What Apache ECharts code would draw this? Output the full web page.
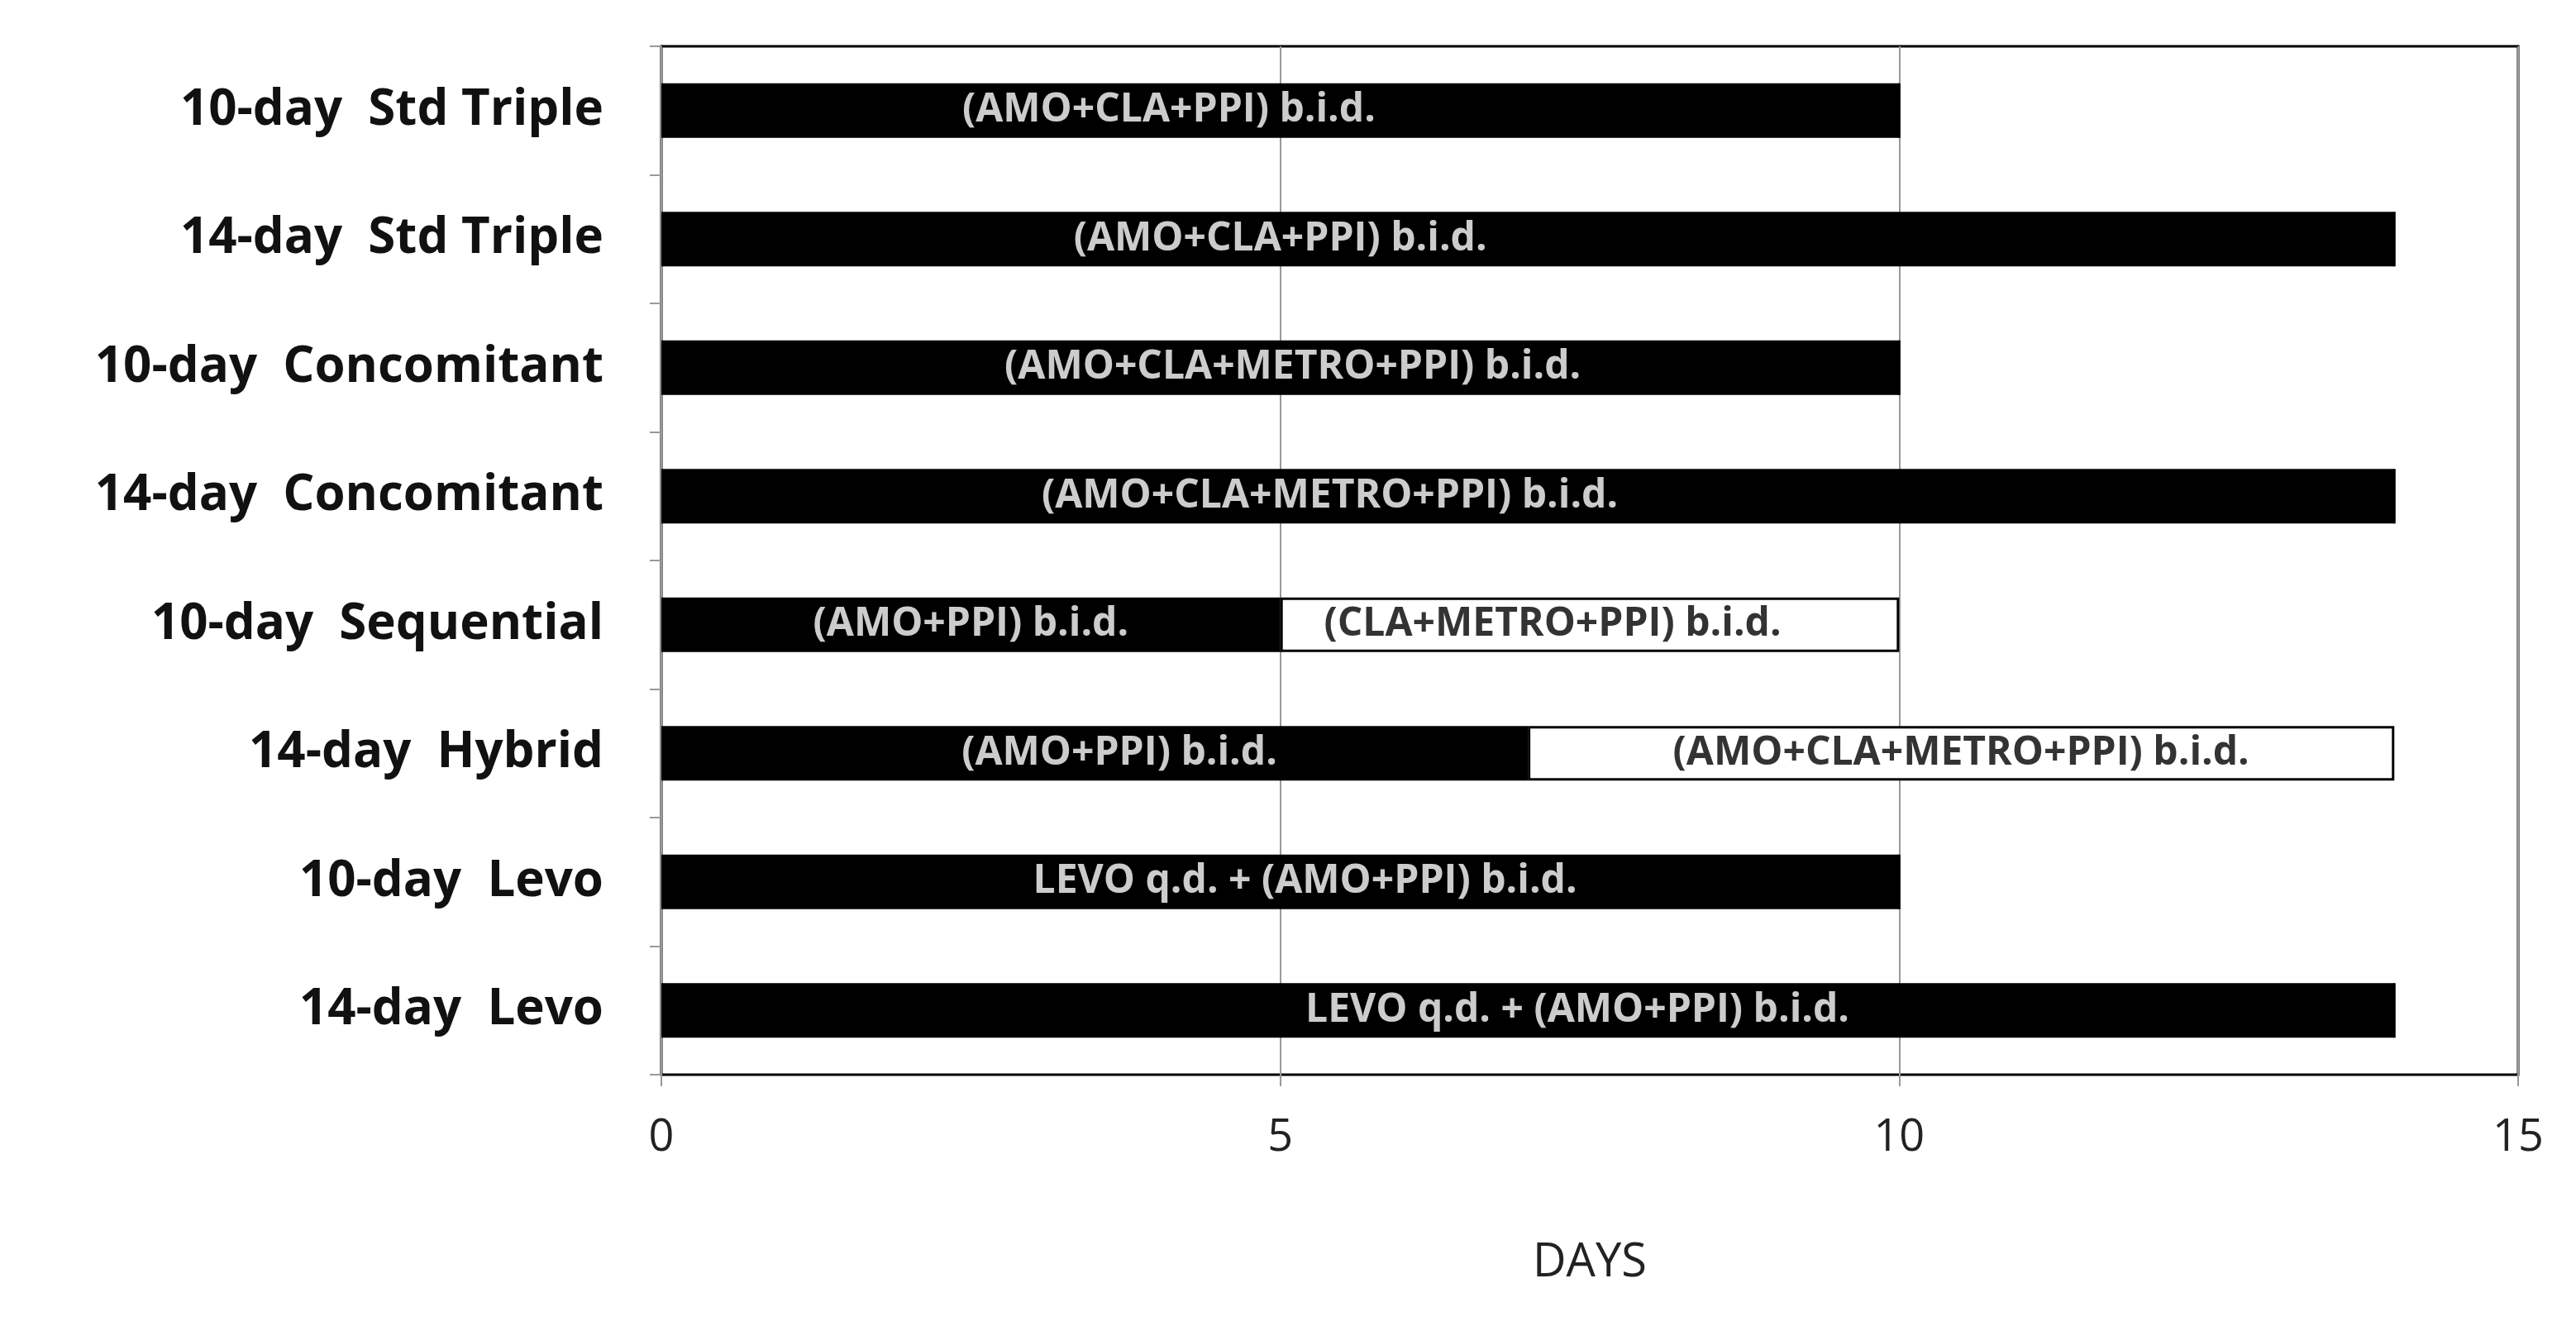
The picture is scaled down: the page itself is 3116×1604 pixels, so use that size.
<!DOCTYPE html><html><head><meta charset="utf-8"><script src="https://cdn.jsdelivr.net/npm/echarts@6/dist/echarts.min.js"></script>
<style>html,body{margin:0;background:#fff}#c{width:3116px;height:1604px}</style></head><body><div id="c"></div><script>
const categories=['10-day  Std Triple','14-day  Std Triple','10-day  Concomitant','14-day  Concomitant','10-day  Sequential','14-day  Hybrid','10-day  Levo','14-day  Levo'];
const phase1=[10,14,10,14,5,7,10,14];
const phase2=[0,0,0,0,5,7,0,0];
const text1=['(AMO+CLA+PPI) b.i.d.','(AMO+CLA+PPI) b.i.d.','(AMO+CLA+METRO+PPI) b.i.d.','(AMO+CLA+METRO+PPI) b.i.d.','(AMO+PPI) b.i.d.','(AMO+PPI) b.i.d.','LEVO q.d. + (AMO+PPI) b.i.d.','LEVO q.d. + (AMO+PPI) b.i.d.'];
const text1At=[4.1,5.0,5.1,5.4,2.5,3.7,5.2,7.4];
const text2=['','','','','(CLA+METRO+PPI) b.i.d.','(AMO+CLA+METRO+PPI) b.i.d.','',''];
const text2At=[0,0,0,0,7.2,10.5,0,0];
const ch=echarts.init(document.getElementById('c'));
const lab1=categories.map((c,i)=>({value:[text1At[i],c],label:{formatter:text1[i],color:'#fff'}}));
const lab2=categories.map((c,i)=>text2[i]?({value:[text2At[i],c],label:{formatter:text2[i],color:'#000'}}):null).filter(Boolean);
ch.setOption({animation:false,
grid:{left:800,right:70,top:56,bottom:304,show:true,borderColor:'#000',borderWidth:3},
xAxis:{type:'value',min:0,max:15,interval:5,name:'DAYS',nameLocation:'middle',nameGap:200,nameTextStyle:{fontSize:56,color:'#222',fontFamily:'Open Sans'},
axisLabel:{fontSize:54,color:'#222',margin:50,fontFamily:'Open Sans'},axisLine:{show:false},axisTick:{show:true,length:14,lineStyle:{color:'#999',width:2}},
splitLine:{show:true,lineStyle:{color:'#999',width:2}}},
yAxis:{type:'category',inverse:true,data:categories,axisLine:{show:false},axisTick:{show:true,length:14,lineStyle:{color:'#999',width:2}},
axisLabel:{fontSize:60,fontWeight:'bold',color:'#111',margin:70,fontFamily:'Open Sans'}},
series:[
{type:'bar',stack:'a',data:phase1,barWidth:66,itemStyle:{color:'#000'}},
{type:'bar',stack:'a',data:phase2,barWidth:66,itemStyle:{color:'#fff',borderColor:'#000',borderWidth:3}},
{type:'scatter',symbolSize:1,itemStyle:{color:'rgba(0,0,0,0)'},data:lab1,label:{show:true,position:'inside',fontSize:48,fontWeight:'bold',fontFamily:'Open Sans'},z:10},
{type:'scatter',symbolSize:1,itemStyle:{color:'rgba(0,0,0,0)'},data:lab2,label:{show:true,position:'inside',fontSize:48,fontWeight:'bold',fontFamily:'Open Sans'},z:10}
]});
</script></body></html>
